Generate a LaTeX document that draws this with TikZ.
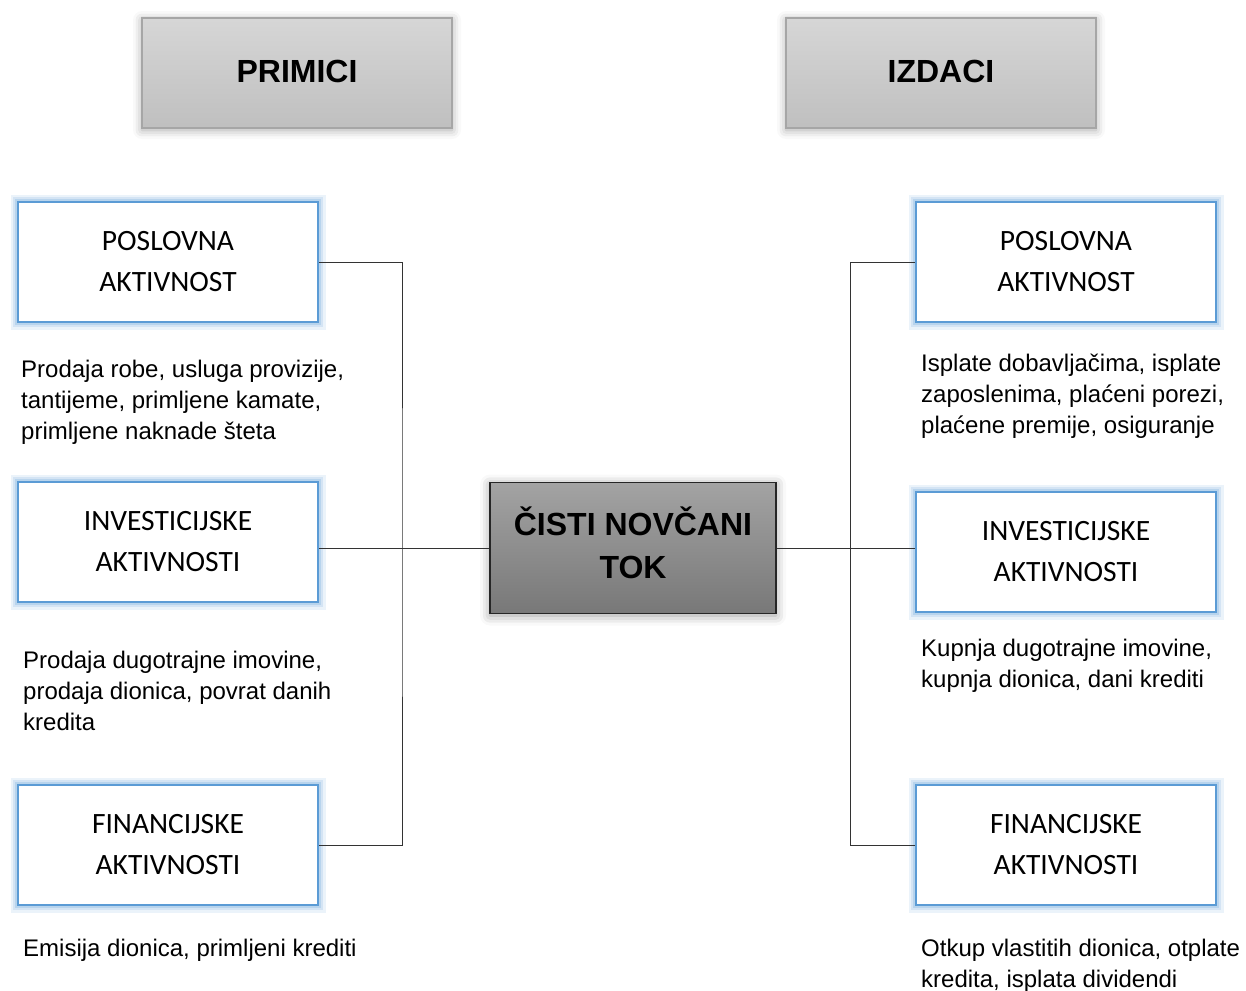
\documentclass[tikz,border=0pt]{standalone}
\usepackage{fontspec}
\setmainfont{Liberation Sans}
\newfontfamily\boxfont{Carlito}
\usetikzlibrary{shadows.blur}

\definecolor{rubplava}{HTML}{5B9BD5}
\definecolor{sjajplava}{HTML}{9DC3E6}
\definecolor{naslovsiva}{HTML}{A6A6A6}

\tikzset{
  aktivnost/.style={draw=rubplava, line width=2.5pt, fill=white, minimum width=300pt,
    minimum height=120pt, inner sep=0pt, align=center,
    font=\boxfont\fontsize{29.5}{41}\selectfont,
    preaction={draw=sjajplava, line width=15pt, opacity=.2},
    preaction={draw=sjajplava, line width=10pt, opacity=.3},
    preaction={draw=sjajplava, line width=6pt, opacity=.5}},
  naslov/.style={draw=naslovsiva, line width=2.5pt, top color=black!16, bottom color=black!25,
    minimum width=310pt, minimum height=110pt, inner sep=0pt, text depth=4pt,
    font=\bfseries\fontsize{32}{38}\selectfont,
    blur shadow={shadow xshift=0pt, shadow yshift=-2pt, shadow blur radius=9pt, shadow opacity=35}},
  opis/.style={anchor=base west, align=left, inner sep=0pt, font=\fontsize{24}{31}\selectfont}
}

\begin{document}
\begin{tikzpicture}[x=1pt, y=-1pt]
\useasboundingbox (0,0) rectangle (1246,990);

\node[naslov] (primici) at (297,73) {PRIMICI};
\node[naslov] (izdaci) at (941,73) {IZDACI};

\node[draw=black!85, line width=1.5pt, top color=black!36, bottom color=black!53,
  minimum width=286pt, minimum height=131pt, inner sep=0pt, align=center, text depth=10pt,
  font=\bfseries\fontsize{32}{43}\selectfont,
  blur shadow={shadow xshift=0pt, shadow yshift=-2pt, shadow blur radius=10pt, shadow opacity=40}]
  (tok) at (633,548) {ČISTI NOVČANI\\TOK};

\node[aktivnost] (lpos) at (168,262) {POSLOVNA\\AKTIVNOST};
\node[aktivnost] (linv) at (168,542) {INVESTICIJSKE\\AKTIVNOSTI};
\node[aktivnost] (lfin) at (168,845) {FINANCIJSKE\\AKTIVNOSTI};
\node[aktivnost] (dpos) at (1066,262) {POSLOVNA\\AKTIVNOST};
\node[aktivnost] (dinv) at (1066,552) {INVESTICIJSKE\\AKTIVNOSTI};
\node[aktivnost] (dfin) at (1066,845) {FINANCIJSKE\\AKTIVNOSTI};

\coordinate (lspoj) at (402,551);
\coordinate (dspoj) at (850,551);
\draw[black!80, line width=1pt] (lpos.east) -| (lspoj) |- (lfin.east);
\draw[black!80, line width=1pt] (linv.east |- tok.west) -- (tok.west);
\draw[black!80, line width=1pt] (dpos.west) -| (dspoj) |- (dfin.west);
\draw[black!80, line width=1pt] (tok.east) -- (dinv.west |- tok.east);

\node[opis] (lposopis) at (21,439) {Prodaja robe, usluga provizije,\\tantijeme, primljene kamate,\\primljene naknade šteta};
\node[opis] (linvopis) at (23,730) {Prodaja dugotrajne imovine,\\prodaja dionica, povrat danih\\kredita};
\node[opis] (lfinopis) at (23,956) {Emisija dionica, primljeni krediti};
\node[opis] (dposopis) at (921,433) {Isplate dobavljačima, isplate\\zaposlenima, plaćeni porezi,\\plaćene premije, osiguranje};
\node[opis] (dinvopis) at (921,687) {Kupnja dugotrajne imovine,\\kupnja dionica, dani krediti};
\node[opis] (dfinopis) at (921,987) {Otkup vlastitih dionica, otplate\\kredita, isplata dividendi};
\end{tikzpicture}
\end{document}
